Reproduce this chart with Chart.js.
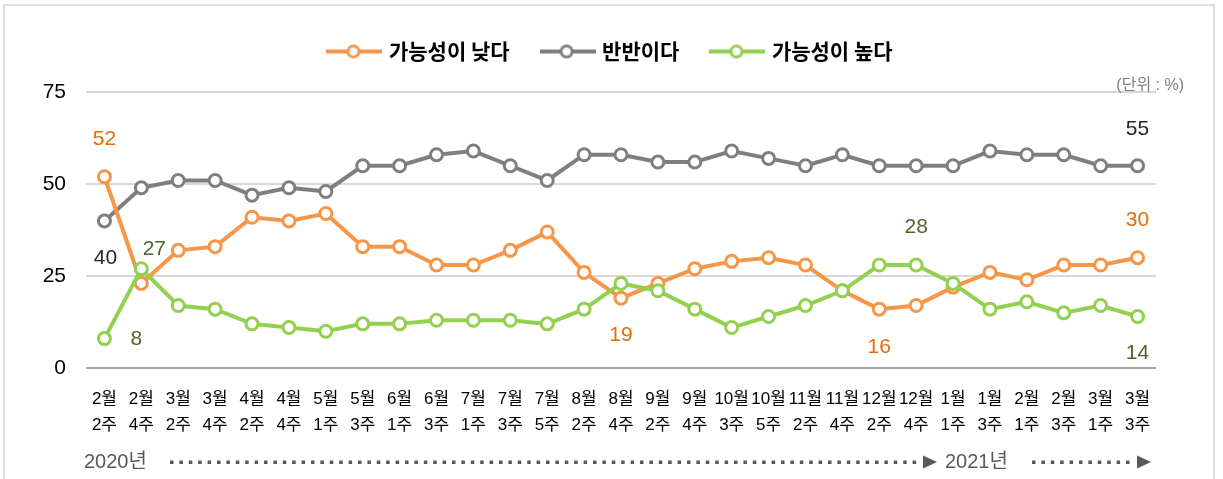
<!DOCTYPE html>
<html>
<head>
<meta charset="utf-8">
<script src="https://cdn.jsdelivr.net/npm/chart.js@4.4.1/dist/chart.umd.min.js"></script>
<style>
  body { margin: 0; background: #fff; }
  #wrap { position: relative; width: 1223px; height: 479px; overflow: hidden; }
  #frame { position: absolute; left: 3px; top: 4px; width: 1208px; height: 520px; border: 2px solid #dcdcdc; }
  #chart { position: absolute; left: 0; top: 0; }
</style>
</head>
<body>
<div id="wrap">
  <div id="frame"></div>
  <canvas id="chart" width="1223" height="479"></canvas>
</div>
<script>
const months = ["2월","2월","3월","3월","4월","4월","5월","5월","6월","6월","7월","7월","7월","8월","8월",
  "9월","9월","10월","10월","11월","11월","12월","12월","1월","1월","2월","2월","3월","3월"];
const weeks = ["2주","4주","2주","4주","2주","4주","1주","3주","1주","3주","1주","3주","5주","2주","4주",
  "2주","4주","3주","5주","2주","4주","2주","4주","1주","3주","1주","3주","1주","3주"];

// 가능성이 낮다 / 반반이다 / 가능성이 높다
const lowValues = [52,23,32,33,41,40,42,33,33,28,28,32,37,26,19,23,27,29,30,28,21,16,17,22,26,24,28,28,30];
const evenValues = [40,49,51,51,47,49,48,55,55,58,59,55,51,58,58,56,56,59,57,55,58,55,55,55,59,58,58,55,55];
const highValues = [8,27,17,16,12,11,10,12,12,13,13,13,12,16,23,21,16,11,14,17,21,28,28,23,16,18,15,17,14];

const yTicks = [0, 25, 50, 75];
const seriesNames = ["가능성이 낮다", "반반이다", "가능성이 높다"];

const ORANGE = "#f79646";
const GRAY = "#7f7f7f";
const GREEN = "#92d050";

const FONT = '"Liberation Sans", "Noto Sans CJK KR", sans-serif';

// which points get a value label, and where it sits relative to the point
const valueLabels = [
  { ds: 0, i: 0, dx: 0, dy: -38, color: "#e46c0a" },
  { ds: 0, i: 14, dx: 0, dy: 37, color: "#e46c0a" },
  { ds: 0, i: 21, dx: 0, dy: 38, color: "#e46c0a" },
  { ds: 0, i: 28, dx: 0, dy: -37, color: "#e46c0a" },
  { ds: 1, i: 0, dx: 1, dy: 37, color: "#262626" },
  { ds: 1, i: 28, dx: 0, dy: -37, color: "#262626" },
  { ds: 2, i: 0, dx: 32, dy: 1, color: "#4f6228" },
  { ds: 2, i: 1, dx: 13, dy: -20, color: "#4f6228" },
  { ds: 2, i: 22, dx: 0, dy: -38, color: "#4f6228" },
  { ds: 2, i: 28, dx: 0, dy: 37, color: "#4f6228" }
];

function legendIcon(color) {
  const c = document.createElement("canvas");
  c.width = 56;
  c.height = 16;
  const g = c.getContext("2d");
  g.strokeStyle = color;
  g.lineWidth = 4;
  g.beginPath();
  g.moveTo(0, 8);
  g.lineTo(56, 8);
  g.stroke();
  g.beginPath();
  g.arc(27, 8, 5.5, 0, Math.PI * 2);
  g.fillStyle = "#fff";
  g.fill();
  g.lineWidth = 3;
  g.stroke();
  return c;
}

const icons = [legendIcon(ORANGE), legendIcon(GRAY), legendIcon(GREEN)];

const valueLabelPlugin = {
  id: "valueLabels",
  afterDatasetsDraw(chart) {
    const ctx = chart.ctx;
    ctx.save();
    ctx.font = "21px " + FONT;
    ctx.textAlign = "center";
    ctx.textBaseline = "middle";
    valueLabels.forEach(l => {
      const pt = chart.getDatasetMeta(l.ds).data[l.i];
      ctx.fillStyle = l.color;
      ctx.fillText(String(chart.data.datasets[l.ds].data[l.i]), pt.x + l.dx, pt.y + l.dy);
    });
    ctx.restore();
  }
};

const extrasPlugin = {
  id: "extras",
  afterDraw(chart) {
    const ctx = chart.ctx;
    ctx.save();
    // unit note
    ctx.fillStyle = "#7f7f7f";
    ctx.font = "16px " + FONT;
    ctx.textAlign = "right";
    ctx.textBaseline = "middle";
    ctx.fillText("(단위 : %)", 1184, 86);

    // year row
    const y = 462;
    ctx.fillStyle = "#595959";
    ctx.font = "20px " + FONT;
    ctx.textAlign = "left";
    ctx.fillText("2020년", 84, y);
    ctx.fillText("2021년", 945, y);

    function dots(x0, x1) {
      for (let x = x0; x + 3.5 <= x1; x += 9.4) {
        ctx.fillRect(x, y - 1.5, 3.5, 3.5);
      }
    }
    function arrow(tip) {
      ctx.beginPath();
      ctx.moveTo(tip - 14, y - 6.5);
      ctx.lineTo(tip, y);
      ctx.lineTo(tip - 14, y + 6.5);
      ctx.closePath();
      ctx.fill();
    }
    dots(170, 924);
    arrow(937);
    dots(1032, 1138);
    arrow(1151);
    ctx.restore();
  }
};

function lineSet(label, data, color, order) {
  return {
    label,
    data,
    order,
    borderColor: color,
    borderWidth: 4,
    pointRadius: 6,
    pointBorderWidth: 3,
    pointBackgroundColor: "#fff",
    pointBorderColor: color,
    tension: 0
  };
}

new Chart(document.getElementById("chart"), {
  type: "line",
  data: {
    labels: months.map((m, i) => [m, weeks[i]]),
    datasets: [
      lineSet(seriesNames[0], lowValues, ORANGE, 1),
      lineSet(seriesNames[1], evenValues, GRAY, 2),
      lineSet(seriesNames[2], highValues, GREEN, 0)
    ]
  },
  options: {
    responsive: false,
    animation: false,
    events: [],
    layout: { padding: { left: 0, right: 0, top: 7, bottom: 0 } },
    plugins: {
      tooltip: { enabled: false },
      // empty title used only as a spacer under the legend
      title: {
        display: true,
        text: "",
        weight: 500,
        font: { size: 1 },
        padding: { top: 0, bottom: 19 }
      },
      legend: {
        position: "top",
        labels: {
          usePointStyle: true,
          pointStyleWidth: 48,
          padding: 34,
          color: "#000",
          font: { family: '"Noto Sans CJK KR", sans-serif', size: 21, weight: "bold" },
          sort: (a, b) => a.datasetIndex - b.datasetIndex,
          generateLabels(chart) {
            const items = Chart.defaults.plugins.legend.labels.generateLabels(chart);
            items.forEach(it => { it.pointStyle = icons[it.datasetIndex]; });
            return items;
          }
        }
      }
    },
    scales: {
      x: {
        offset: true,
        grid: { display: false },
        border: { display: false },
        afterFit: s => { s.height = 111; },
        ticks: {
          color: "#000",
          padding: 10,
          maxRotation: 0,
          autoSkip: false,
          font: { family: FONT, size: 17, lineHeight: 1.55 }
        }
      },
      y: {
        min: 0,
        max: 75,
        afterFit: s => { s.width = 86; },
        afterBuildTicks: s => { s.ticks = yTicks.map(v => ({ value: v })); },
        border: { display: false },
        grid: {
          drawTicks: false,
          lineWidth: 2,
          color: c => (c.tick.value === 0 ? "#a6a6a6" : "#d9d9d9")
        },
        ticks: {
          color: "#000",
          padding: 20,
          font: { family: FONT, size: 21 }
        }
      },
      // empty right axis, keeps the plot clear of the right margin
      y2: {
        position: "right",
        min: 0,
        max: 75,
        grid: { display: false },
        border: { display: false },
        ticks: { display: false },
        afterFit: s => { s.width = 67; }
      }
    }
  },
  plugins: [valueLabelPlugin, extrasPlugin]
});
</script>
</body>
</html>
